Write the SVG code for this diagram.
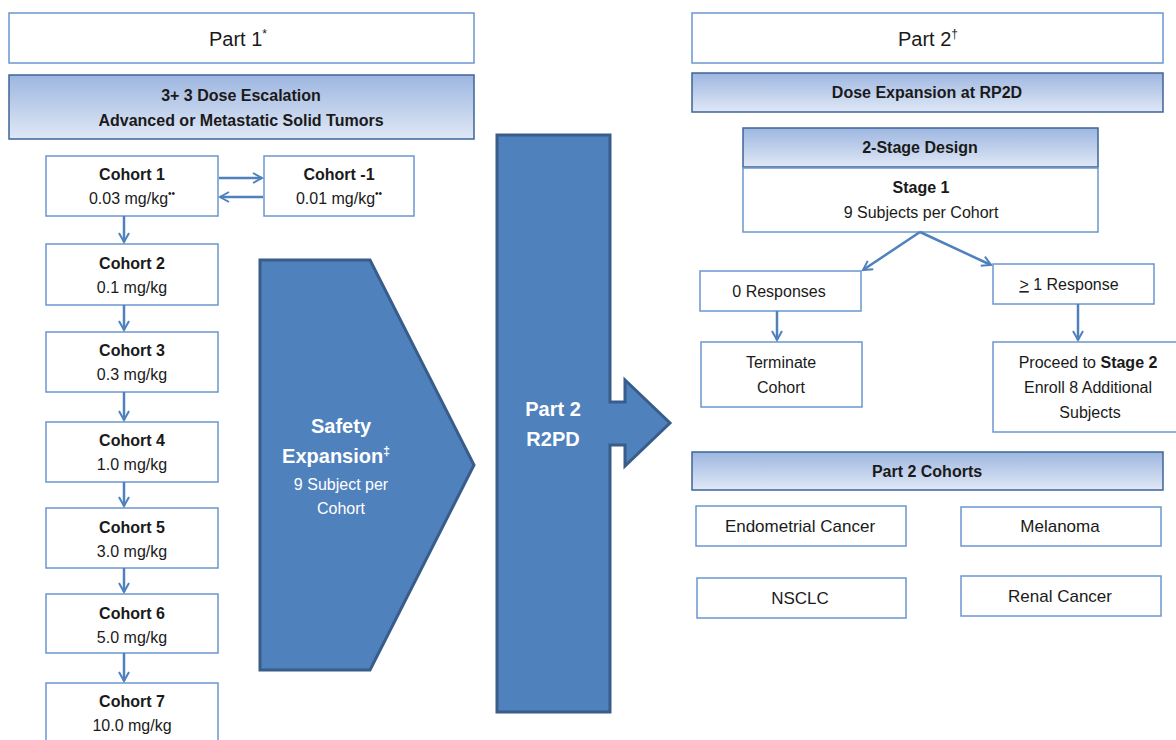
<svg xmlns="http://www.w3.org/2000/svg" width="1176" height="740" viewBox="0 0 1176 740">
<defs>
<linearGradient id="hg" x1="0" y1="0" x2="0" y2="1">
<stop offset="0" stop-color="#9db6e0"/>
<stop offset="1" stop-color="#e0e8f6"/>
</linearGradient>
<marker id="ah" viewBox="0 0 12 12" refX="10" refY="6" markerWidth="12" markerHeight="12" markerUnits="userSpaceOnUse" orient="auto">
<path d="M1,1 L10,6 L1,11" fill="none" stroke="#4f81bd" stroke-width="2"/>
</marker>
<style>
.t{font-family:"Liberation Sans",Arial,sans-serif;fill:#1a1a1a;text-anchor:middle}
.b{font-weight:bold}
.box{fill:#fff;stroke:#6a97d0;stroke-width:1.5}
.hdr{fill:url(#hg);stroke:#3e6496;stroke-width:1.5}
.big{fill:#4f81bd;stroke:#385d8a;stroke-width:3}
.w{fill:#fff}
.c{fill:none;stroke:#4f81bd;stroke-width:2.5;marker-end:url(#ah)}
</style>
</defs>
<rect width="1176" height="740" fill="#fff"/>

<g id="part1-title"><rect class="box" x="9" y="13" width="465" height="50"/>
<text class="t" x="238" y="46" font-size="20">Part 1<tspan font-size="12" dy="-8">*</tspan></text></g>
<g id="part1-header"><rect class="hdr" x="9" y="75" width="465" height="64"/>
<text class="t b" x="241" y="101" font-size="16">3+ 3 Dose Escalation</text>
<text class="t b" x="241" y="126" font-size="16">Advanced or Metastatic Solid Tumors</text></g>

<g id="cohort1"><rect class="box" x="46" y="156" width="172" height="60"/>
<text class="t b" x="132" y="180" font-size="16">Cohort 1</text>
<text class="t" x="132" y="204" font-size="16">0.03 mg/kg<tspan font-size="10" dy="-7">••</tspan></text></g>
<g id="cohort-minus1"><rect class="box" x="264" y="156" width="150" height="60"/>
<text class="t b" x="339" y="180" font-size="16">Cohort -1</text>
<text class="t" x="339" y="204" font-size="16">0.01 mg/kg<tspan font-size="10" dy="-7">••</tspan></text></g>
<g id="cohort2"><rect class="box" x="46" y="244" width="172" height="61"/>
<text class="t b" x="132" y="269" font-size="16">Cohort 2</text>
<text class="t" x="132" y="293" font-size="16">0.1 mg/kg</text></g>
<g id="cohort3"><rect class="box" x="46" y="332" width="172" height="60"/>
<text class="t b" x="132" y="356" font-size="16">Cohort 3</text>
<text class="t" x="132" y="380" font-size="16">0.3 mg/kg</text></g>
<g id="cohort4"><rect class="box" x="46" y="422" width="172" height="60"/>
<text class="t b" x="132" y="446" font-size="16">Cohort 4</text>
<text class="t" x="132" y="470" font-size="16">1.0 mg/kg</text></g>
<g id="cohort5"><rect class="box" x="46" y="508" width="172" height="60"/>
<text class="t b" x="132" y="533" font-size="16">Cohort 5</text>
<text class="t" x="132" y="557" font-size="16">3.0 mg/kg</text></g>
<g id="cohort6"><rect class="box" x="46" y="594" width="172" height="59"/>
<text class="t b" x="132" y="619" font-size="16">Cohort 6</text>
<text class="t" x="132" y="643" font-size="16">5.0 mg/kg</text></g>
<g id="cohort7"><rect class="box" x="46" y="683" width="172" height="70"/>
<text class="t b" x="132" y="707" font-size="16">Cohort 7</text>
<text class="t" x="132" y="731" font-size="16">10.0 mg/kg</text></g>

<g id="safety-expansion"><path class="big" d="M260,260 L370,260 L474,465 L370,670 L260,670 Z"/>
<text class="t b w" x="341" y="433" font-size="20">Safety</text>
<text class="t b w" x="336" y="463" font-size="20">Expansion<tspan font-size="12" dy="-8">‡</tspan></text>
<text class="t w" x="341" y="490" font-size="16">9 Subject per</text>
<text class="t w" x="341" y="514" font-size="16">Cohort</text></g>

<g id="part2-r2pd"><path class="big" d="M497,135 L610,135 L610,402 L625,402 L625,380 L670,423 L625,466 L625,445 L610,445 L610,712 L497,712 Z"/>
<text class="t b w" x="553" y="416" font-size="20">Part 2</text>
<text class="t b w" x="553" y="446" font-size="20">R2PD</text></g>

<g id="part2-title"><rect class="box" x="692" y="13" width="471" height="50"/>
<text class="t" x="928" y="46" font-size="20">Part 2<tspan font-size="12" dy="-8">†</tspan></text></g>
<g id="part2-header"><rect class="hdr" x="692" y="73" width="471" height="39"/>
<text class="t b" x="927" y="98" font-size="16">Dose  Expansion at RP2D</text></g>
<g id="two-stage"><rect class="hdr" x="743" y="128" width="355" height="39"/>
<text class="t b" x="920" y="153" font-size="16">2-Stage Design</text></g>
<g id="stage1"><rect class="box" x="743" y="168" width="355" height="64" stroke="#3e6496"/>
<text class="t b" x="921" y="193" font-size="16">Stage 1</text>
<text class="t" x="921" y="218" font-size="16">9 Subjects per Cohort</text></g>
<g id="zero-responses"><rect class="box" x="700" y="271" width="161" height="40"/>
<text class="t" x="779" y="297" font-size="16">0 Responses</text></g>
<g id="one-response"><rect class="box" x="993" y="264" width="161" height="40"/>
<text class="t" x="1069" y="290" font-size="16"><tspan text-decoration="underline">&gt;</tspan> 1 Response</text></g>
<g id="terminate"><rect class="box" x="701" y="342" width="161" height="65"/>
<text class="t" x="781" y="368" font-size="16">Terminate</text>
<text class="t" x="781" y="393" font-size="16">Cohort</text></g>
<g id="proceed"><rect class="box" x="993" y="342" width="190" height="90"/>
<text class="t" x="1088" y="368" font-size="16">Proceed to <tspan class="b">Stage 2</tspan></text>
<text class="t" x="1088" y="393" font-size="16">Enroll 8 Additional</text>
<text class="t" x="1090" y="418" font-size="16">Subjects</text></g>

<g id="part2-cohorts"><rect class="hdr" x="692" y="452" width="471" height="38" stroke="#6a97d0"/>
<text class="t b" x="927" y="477" font-size="16">Part 2 Cohorts</text></g>
<g id="endometrial"><rect class="box" x="696" y="506" width="210" height="40" stroke="#3e6496"/>
<text class="t" x="800" y="532" font-size="17">Endometrial  Cancer</text></g>
<g id="melanoma"><rect class="box" x="961" y="507" width="200" height="39" stroke="#3e6496"/>
<text class="t" x="1060" y="532" font-size="17">Melanoma</text></g>
<g id="nsclc"><rect class="box" x="697" y="578" width="209" height="40" stroke="#3e6496"/>
<text class="t" x="800" y="604" font-size="17">NSCLC</text></g>
<g id="renal"><rect class="box" x="961" y="576" width="200" height="40" stroke="#3e6496"/>
<text class="t" x="1060" y="602" font-size="17">Renal Cancer</text></g>

<g id="connectors">
<line class="c" x1="219" y1="178" x2="262" y2="178"/>
<line class="c" x1="263" y1="197" x2="220" y2="197"/>
<line class="c" x1="124" y1="216" x2="124" y2="242"/>
<line class="c" x1="124" y1="305" x2="124" y2="330"/>
<line class="c" x1="124" y1="392" x2="124" y2="420"/>
<line class="c" x1="124" y1="482" x2="124" y2="506"/>
<line class="c" x1="124" y1="568" x2="124" y2="592"/>
<line class="c" x1="124" y1="653" x2="124" y2="681"/>
<line class="c" x1="920" y1="232" x2="863" y2="270"/>
<line class="c" x1="920" y1="232" x2="991" y2="265"/>
<line class="c" x1="777" y1="311" x2="777" y2="340"/>
<line class="c" x1="1078" y1="304" x2="1078" y2="340"/>
</g>
</svg>
